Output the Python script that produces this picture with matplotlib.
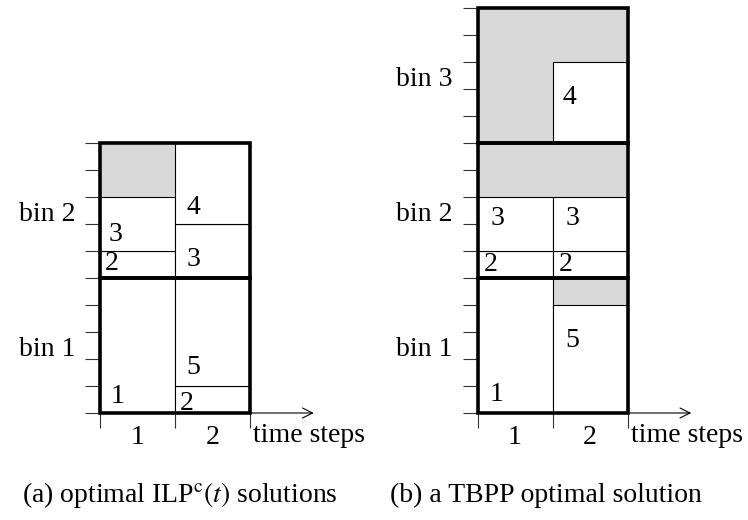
import matplotlib.pyplot as plt
from matplotlib.patches import Rectangle

plt.rcParams['font.family'] = ['Liberation Serif', 'DejaVu Serif']
plt.rcParams['mathtext.fontset'] = 'stix'

# items: (time step index, bottom, height, label)
items_a = [(0, 0, 5, "1"), (0, 5, 1, "2"), (0, 6, 2, "3"),
           (1, 0, 1, "2"), (1, 1, 4, "5"), (1, 5, 2, "3"), (1, 7, 3, "4")]
empty_a = [(0, 8, 1, 2)]  # (x, y, width, height) of unused space
bins_a = ["bin 1", "bin 2"]

items_b = [(0, 0, 5, "1"), (0, 5, 1, "2"), (0, 6, 2, "3"),
           (1, 0, 4, "5"), (1, 5, 1, "2"), (1, 6, 2, "3"), (1, 10, 3, "4")]
empty_b = [(1, 4, 1, 1), (0, 8, 2, 2), (0, 10, 1, 5), (1, 13, 1, 2)]
bins_b = ["bin 1", "bin 2", "bin 3"]

# where each item number sits inside its box (offset from bottom-left)
label_off_a = [(0.24, 0.6), (0.16, 0.55), (0.21, 0.6),
               (0.16, 0.37), (0.24, 0.67), (0.24, 0.67), (0.24, 0.6)]
label_off_b = [(0.26, 0.67), (0.17, 0.5), (0.26, 1.2),
               (0.26, 2.7), (0.17, 0.5), (0.26, 1.2), (0.23, 1.7)]

captions = [r"(a) optimal ILP$^{\rm c}(t)$ solutions", "(b) a TBPP optimal solution"]
steps = ["1", "2"]

bin_size = 5
W, H = 748, 520
fs = 20
gray = "#d9d9d9"

fig = plt.figure(figsize=(W / 100, H / 100), dpi=100)


def draw_panel(left_px, items, empty, offs, bins):
    n = len(bins)
    ax = fig.add_axes([left_px / W, 107 / H, 150 / W, 27 * bin_size * n / H])
    ax.set_xlim(0, 2)
    ax.set_ylim(0, bin_size * n)
    for s in ax.spines.values():
        s.set_visible(False)

    for x, y, w, h in empty:
        ax.add_patch(Rectangle((x, y), w, h, facecolor=gray, edgecolor="none", zorder=1))
    for (t, b, h, lab), (dx, dy) in zip(items, offs):
        ax.add_patch(Rectangle((t, b), 1, h, facecolor="white", edgecolor="black",
                               lw=0.8, zorder=2))
        ax.text(t + dx, b + dy, lab, fontsize=fs, ha="center", va="center", zorder=3)
    for i, name in enumerate(bins):
        ax.add_patch(Rectangle((0, i * bin_size), 2, bin_size, facecolor="none",
                               edgecolor="black", lw=2.6, zorder=4, clip_on=False))
        ax.text(-0.33, i * bin_size + 2.35, name, fontsize=fs, ha="right", va="center")

    ax.annotate("", xy=(2.85, 0), xytext=(0, 0), annotation_clip=False,
                arrowprops=dict(arrowstyle="->", lw=0.8, color="black",
                                shrinkA=0, shrinkB=0, mutation_scale=18))

    ax.set_yticks(range(bin_size * n + 1))
    ax.set_yticklabels([])
    ax.tick_params(axis="y", length=11, width=0.8, color="#333333", direction="out")
    ax.set_xticks([0, 1, 2])
    ax.set_xticklabels([])
    ax.tick_params(axis="x", length=11, width=0.8, color="#333333", direction="out")
    ax.set_xticks([0.5, 1.5], minor=True)
    ax.set_xticklabels(steps, minor=True, fontsize=fs)
    ax.tick_params(axis="x", which="minor", length=0, pad=9)
    ax.text(2.04, -0.82, "time steps", fontsize=fs, ha="left", va="center")
    return ax


draw_panel(100, items_a, empty_a, label_off_a, bins_a)
draw_panel(477.5, items_b, empty_b, label_off_b, bins_b)

fig.text(22 / W, 25 / H, captions[0], fontsize=fs, ha="left", va="center")
fig.text(390 / W, 25 / H, captions[1], fontsize=fs, ha="left", va="center")

fig.savefig("out.png", dpi=100)
